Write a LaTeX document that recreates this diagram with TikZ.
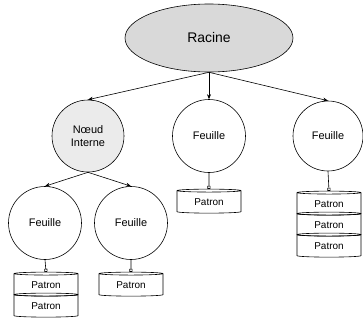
\documentclass[tikz,border=0pt]{standalone}
\usepackage{fontspec}
\setmainfont{Liberation Sans}
\usepackage{tikz}
\usetikzlibrary{arrows.meta,positioning,shapes.geometric}
\definecolor{rootgray}{HTML}{D9D9D9}
\definecolor{innergray}{HTML}{EBEBEB}

\begin{document}
\begin{tikzpicture}[x=1bp,y=-1bp,line width=0.6pt,
    every node/.style={draw,inner sep=0pt,align=center},
    feuille/.style={circle,minimum size=73bp,font=\fontsize{11}{13}\selectfont},
    patron/.style={cylinder,shape border rotate=90,aspect=0.1,minimum width=64bp,minimum height=24bp,font=\fontsize{10}{12}\selectfont},
    fleche/.style={-{Stealth[length=5bp,width=4bp]}},
    lien/.style={-{Square[open,length=3bp,width=3bp]}}]
  \useasboundingbox (0,0) rectangle (363,322);
  % arbre
  \node[ellipse,fill=rootgray,minimum width=168bp,minimum height=68bp,font=\fontsize{14}{16}\selectfont] (racine) at (209,38) {Racine};
  \node[feuille,fill=innergray,minimum size=72bp] (interne) at (88,136) {Nœud\\Interne};
  \node[feuille] (feuilleB) at (209,136) {Feuille};
  \node[feuille,minimum size=70bp] (feuilleC) at (328,136) {Feuille};
  \node[feuille] (feuilleD) at (45,223) {Feuille};
  \node[feuille] (feuilleE) at (131,223) {Feuille};
  \draw[fleche] (racine.south) -- (interne.north);
  \draw[fleche] (racine.south) -- (feuilleB.north);
  \draw[fleche] (racine.south) -- (feuilleC.north);
  \draw[fleche] (interne.south) -- (feuilleD.north);
  \draw[fleche] (interne.south) -- (feuilleE.north);
  % patrons
  \node[patron] (patB) at (209,202) {Patron};
  \foreach \i/\y in {1/204,2/225,3/246}
    \node[patron] (patC\i) at (329,\y) {Patron};
  \foreach \i/\y in {1/285,2/306}
    \node[patron] (patD\i) at (46,\y) {Patron};
  \node[patron] (patE) at (131,285) {Patron};
  \draw[lien] (feuilleB.south) -- (patB.north);
  \draw[lien] (feuilleC.south) -- (patC1.north);
  \draw[lien] (feuilleD.south) -- (patD1.north);
  \draw[lien] (feuilleE.south) -- (patE.north);
\end{tikzpicture}
\end{document}
